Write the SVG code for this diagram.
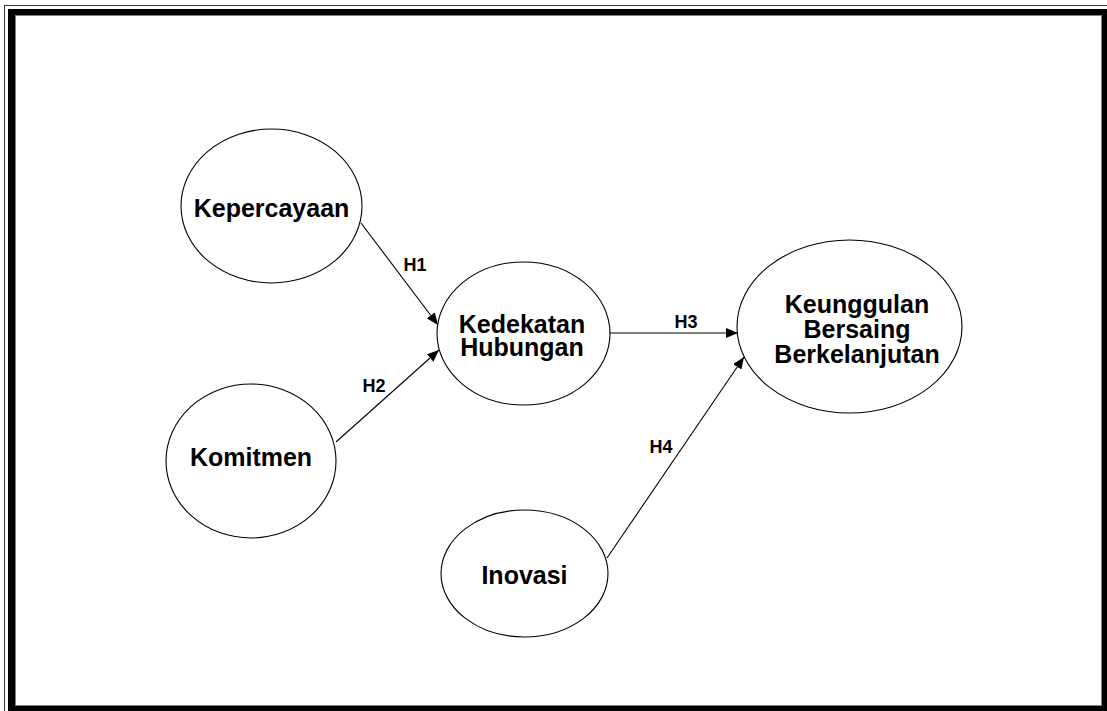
<svg xmlns="http://www.w3.org/2000/svg" width="1107" height="711" viewBox="0 0 1107 711">
  <style>
    .node { fill: #ffffff; stroke: #000000; stroke-width: 1.1; }
    .name { font-family: "Liberation Sans", Arial, sans-serif; font-weight: bold; font-size: 25px; fill: #000000; text-anchor: middle; }
    .hyp { font-family: "Liberation Sans", Arial, sans-serif; font-weight: bold; font-size: 18px; fill: #000000; text-anchor: middle; }
    .link { stroke: #000000; stroke-width: 1.1; fill: none; marker-end: url(#head); }
  </style>
  <defs>
    <marker id="head" viewBox="0 0 12 10" refX="12" refY="5" markerWidth="12" markerHeight="10" markerUnits="userSpaceOnUse" orient="auto">
      <path d="M0,0 L12,5 L0,10 Z" fill="#000000"/>
    </marker>
  </defs>

  <!-- page frame -->
  <g id="frame">
    <rect x="0" y="0" width="1107" height="711" fill="#ffffff"/>
    <rect x="4.5" y="5.5" width="1120" height="720" fill="none" stroke="#333333" stroke-width="1"/>
    <rect x="8" y="9" width="1110" height="710" fill="#000000"/>
    <rect x="15" y="15" width="1087" height="691" fill="#808080"/>
    <rect x="16" y="16" width="1085" height="689" fill="#ffffff"/>
  </g>

  <!-- paths between constructs -->
  <g id="connectors">
    <line class="link" x1="361" y1="223" x2="438" y2="325"/>
    <line class="link" x1="336" y1="442" x2="439" y2="350"/>
    <line class="link" x1="609" y1="333" x2="738" y2="333"/>
    <line class="link" x1="607" y1="558" x2="744" y2="357"/>
    <text class="hyp" x="415" y="271">H1</text>
    <text class="hyp" x="374" y="392">H2</text>
    <text class="hyp" x="686" y="328">H3</text>
    <text class="hyp" x="661" y="453">H4</text>
  </g>

  <g id="kepercayaan">
    <ellipse class="node" cx="271.5" cy="206" rx="90.5" ry="77"/>
    <text class="name" x="271.5" y="217">Kepercayaan</text>
  </g>

  <g id="komitmen">
    <ellipse class="node" cx="251" cy="461" rx="85" ry="77"/>
    <text class="name" x="251" y="466">Komitmen</text>
  </g>

  <g id="kedekatan-hubungan">
    <ellipse class="node" cx="523.5" cy="333.5" rx="86.5" ry="71.5"/>
    <text class="name" x="522" y="333"><tspan x="522">Kedekatan</tspan><tspan x="522" dy="23">Hubungan</tspan></text>
  </g>

  <g id="inovasi">
    <ellipse class="node" cx="524.5" cy="573.5" rx="83.5" ry="63.5"/>
    <text class="name" x="524.5" y="584">Inovasi</text>
  </g>

  <g id="keunggulan">
    <ellipse class="node" cx="849.5" cy="326.5" rx="112.5" ry="86.5"/>
    <text class="name" x="857" y="313"><tspan x="857">Keunggulan</tspan><tspan x="857" dy="25">Bersaing</tspan><tspan x="857" dy="25">Berkelanjutan</tspan></text>
  </g>
</svg>
